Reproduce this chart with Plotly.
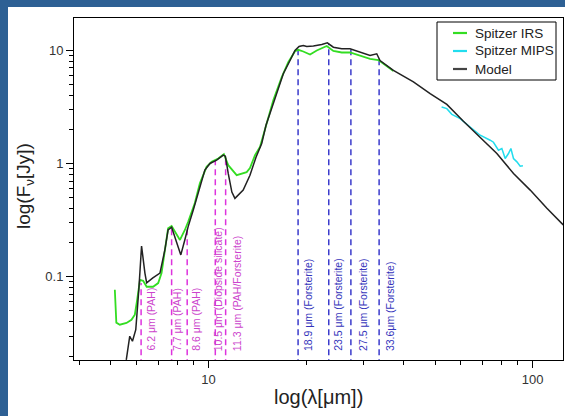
import numpy as np
import plotly.graph_objects as go

# ---------------- data ----------------
model_wl = [5.58, 5.72, 5.83, 5.97, 6.10, 6.22, 6.37, 6.45, 6.74, 7.09, 7.34, 7.51, 7.70,
            7.88, 8.22, 8.46, 8.66, 8.98, 9.41, 9.75, 10.11, 10.60, 11.11, 11.28, 11.51,
            11.81, 12.07, 12.80, 13.43, 14.02, 14.60, 15.05, 15.48, 16.24, 17.02, 17.85,
            18.49, 19.03, 19.61, 20.10, 21.07, 22.36, 23.27, 24.28, 25.77, 27.33, 29.34,
            31.51, 33.04, 33.82, 37.19, 42.87, 48.27, 54.35, 61.14, 68.87, 77.53, 87.25,
            98.24, 110.6, 124.2]
model_flux = [0.0185, 0.0299, 0.0270, 0.0342, 0.0769, 0.187, 0.108, 0.0886, 0.098, 0.108,
              0.173, 0.259, 0.274, 0.226, 0.156, 0.212, 0.277, 0.388, 0.622, 0.873, 1.00,
              1.069, 1.183, 1.159, 0.817, 0.559, 0.492, 0.582, 0.787, 1.136, 1.499, 2.173,
              2.753, 4.128, 6.19, 8.10, 9.92, 10.76, 10.98, 10.76, 10.87, 11.20, 11.60,
              10.61, 10.27, 10.27, 9.58, 8.97, 9.28, 8.10, 6.62, 5.24, 4.13, 3.32, 2.355,
              1.713, 1.224, 0.817, 0.582, 0.402, 0.287]

irs_wl = [5.145, 5.20, 5.33, 5.59, 5.79, 5.93, 6.03, 6.15, 6.29, 6.45, 6.75, 7.00, 7.17,
          7.34, 7.51, 7.70, 7.88, 8.17, 8.46, 8.66, 9.08, 9.41, 9.87, 10.23, 10.72, 11.16,
          11.51, 12.22, 13.12, 13.43, 13.92, 14.42, 15.12, 15.85, 16.83, 17.63, 18.49,
          18.93, 19.61, 20.58, 21.58, 23.17, 24.28, 25.77, 27.33, 29.34, 31.51, 33.43,
          34.63, 36.33, 37.19]
irs_flux = [0.0769, 0.0394, 0.0378, 0.0392, 0.0418, 0.0463, 0.0628, 0.094, 0.0922, 0.0817,
            0.0817, 0.088, 0.1078, 0.173, 0.268, 0.281, 0.249, 0.2115, 0.259, 0.306, 0.4475,
            0.667, 0.933, 1.033, 1.106, 1.207, 0.966, 0.789, 0.839, 0.909, 1.183, 1.40,
            2.247, 3.603, 5.776, 7.825, 9.78, 10.06, 9.72, 9.15, 9.92, 10.87, 9.82, 9.53,
            9.53, 8.87, 8.38, 8.18, 7.58, 6.85, 6.55]

mips_wl = [52.37, 54.35, 56.32, 59.74, 64.13, 68.87, 73.93, 75.68, 78.41, 80.33, 82.24,
           84.20, 85.65, 87.25, 89.39, 91.5, 93.28]
mips_flux = [3.146, 3.046, 2.714, 2.488, 2.099, 1.774, 1.603, 1.539, 1.309, 1.355, 1.106,
             1.224, 1.355, 1.106, 1.033, 0.947, 0.956]

feature_wl = [6.2, 7.7, 8.6, 10.5, 11.3, 18.9, 23.5, 27.5, 33.6]
feature_top = [0.088, 0.27, 0.27, 1.07, 1.18, 10.3, 11.4, 10.1, 8.6]
feature_label = ["6.2 μm (PAH)", "7.7 μm (PAH)", "8.6 μm (PAH)",
                 "10.5 μm (Diopside silicate)", "11.3 μm (PAH/Forsterite)",
                 "18.9 μm (Forsterite)", "23.5 μm (Forsterite)",
                 "27.5 μm (Forsterite)", "33.6μm (Forsterite)"]
feature_kind = ["pah", "pah", "pah", "pah", "pah", "fo", "fo", "fo", "fo"]

legend_names = ["Spitzer IRS", "Spitzer MIPS", "Model"]

x_major = [10, 100]
x_minor = [4, 5, 6, 7, 8, 9, 20, 30, 40, 50, 60, 70, 80, 90]
y_major = [0.1, 1, 10]
y_minor = [0.02, 0.03, 0.04, 0.05, 0.06, 0.07, 0.08, 0.09,
           0.2, 0.3, 0.4, 0.5, 0.6, 0.7, 0.8, 0.9,
           2, 3, 4, 5, 6, 7, 8, 9]
x_range = [3.85, 124.0]
y_range = [0.01845, 19.2]

# ---------------- styles ----------------
FONT = "Liberation Sans, Arial, sans-serif"
line_col = {"pah": "#DD33DD", "fo": "#3B3BCC"}
text_col = {"pah": "#CC44CC", "fo": "#3434BB"}
label_xshift = [9, 5, 8, 3, 11, 10, 9, 12, 11]   # pixel offsets of labels from their lines
series_col = ["#33DD22", "#22DDEE", "#222222"]
legend_sample_col = ["#33DD22", "#22DDEE", "#444444"]

W, H = 565, 416
L, R, T, B = 74, 2, 18, 56
pw, ph = W - L - R, H - T - B
def px2x(p):
    return (p - L) / pw
def py2y(p):
    return (H - B - p) / ph

fig = go.Figure()

# vertical feature lines
for wl, top, kind in zip(feature_wl, feature_top, feature_kind):
    fig.add_trace(go.Scatter(x=[wl, wl], y=[y_range[0] * 0.9, top], mode="lines",
                             line=dict(color=line_col[kind], width=1.5, dash="6px,4px"),
                             showlegend=False, hoverinfo="skip"))

fig.add_trace(go.Scatter(x=irs_wl, y=irs_flux, mode="lines", name=legend_names[0],
                         line=dict(color=series_col[0], width=1.8), showlegend=False))
fig.add_trace(go.Scatter(x=mips_wl, y=mips_flux, mode="lines", name=legend_names[1],
                         line=dict(color=series_col[1], width=1.5), showlegend=False))
fig.add_trace(go.Scatter(x=model_wl, y=model_flux, mode="lines", name=legend_names[2],
                         line=dict(color=series_col[2], width=1.5), showlegend=False))

# rotated feature labels
for wl, lab, kind, xs in zip(feature_wl, feature_label, feature_kind, label_xshift):
    fig.add_annotation(x=np.log10(wl), y=0, xref="x", yref="paper", text=lab,
                       textangle=-90, showarrow=False, xanchor="center", yanchor="bottom",
                       xshift=xs, yshift=7,
                       font=dict(family=FONT, size=10.5, color=text_col[kind]))

# axis titles as annotations
fig.add_annotation(x=0.5, y=py2y(397), xref="paper", yref="paper", text="log(λ[μm])",
                   showarrow=False, xanchor="center", yanchor="middle",
                   font=dict(family=FONT, size=20, color="#222222"))
fig.add_annotation(x=px2x(25), y=py2y(186), xref="paper", yref="paper",
                   text="log(F<sub>ν</sub>[Jy])", textangle=-90,
                   showarrow=False, xanchor="center", yanchor="middle",
                   font=dict(family=FONT, size=19, color="#222222"))

# white page with blue frame strips
fig.add_shape(type="rect", xref="paper", yref="paper",
              x0=px2x(8), x1=px2x(W + 5), y0=py2y(H + 5), y1=py2y(7),
              fillcolor="white", line=dict(width=0), layer="below")

# legend box (drawn by hand to match the compact reference legend)
fig.add_shape(type="rect", xref="paper", yref="paper",
              x0=px2x(437), x1=px2x(556), y0=py2y(80), y1=py2y(22),
              fillcolor="white", line=dict(color="black", width=1), layer="above")
row_y = [33, 51, 69]
for name, col, ry in zip(legend_names, legend_sample_col, row_y):
    fig.add_shape(type="line", xref="paper", yref="paper",
                  x0=px2x(453), x1=px2x(467), y0=py2y(ry), y1=py2y(ry),
                  line=dict(color=col, width=2.2), layer="above")
    fig.add_annotation(x=px2x(473), y=py2y(ry), xref="paper", yref="paper", text=name,
                       showarrow=False, xanchor="left", yanchor="middle",
                       font=dict(family=FONT, size=13.5, color="#222222"))

axis_common = dict(type="log", showline=True, linecolor="black", linewidth=1,
                   mirror=True, ticks="outside", ticklen=7, tickwidth=1,
                   tickcolor="black", showgrid=False, zeroline=False,
                   tickfont=dict(family=FONT, size=13, color="#333333"))

fig.update_xaxes(range=[np.log10(x_range[0]), np.log10(x_range[1])],
                 tickmode="array", tickvals=x_major, ticktext=["10", "100"],
                 minor=dict(tickmode="array", tickvals=x_minor, ticks="outside",
                            ticklen=4, tickcolor="black"),
                 **axis_common)
fig.update_yaxes(range=[np.log10(y_range[0]), np.log10(y_range[1])],
                 tickmode="array", tickvals=y_major, ticktext=["0.1", "1", "10"],
                 minor=dict(tickmode="array", tickvals=y_minor, ticks="outside",
                            ticklen=4, tickcolor="black"),
                 **axis_common)

fig.update_layout(
    width=W, height=H, autosize=False,
    margin=dict(l=L, r=R, t=T, b=B, pad=0),
    paper_bgcolor="#2D6094", plot_bgcolor="white",
    font=dict(family=FONT, color="#222222"),
    showlegend=False,
)

fig.write_html("out.html")
